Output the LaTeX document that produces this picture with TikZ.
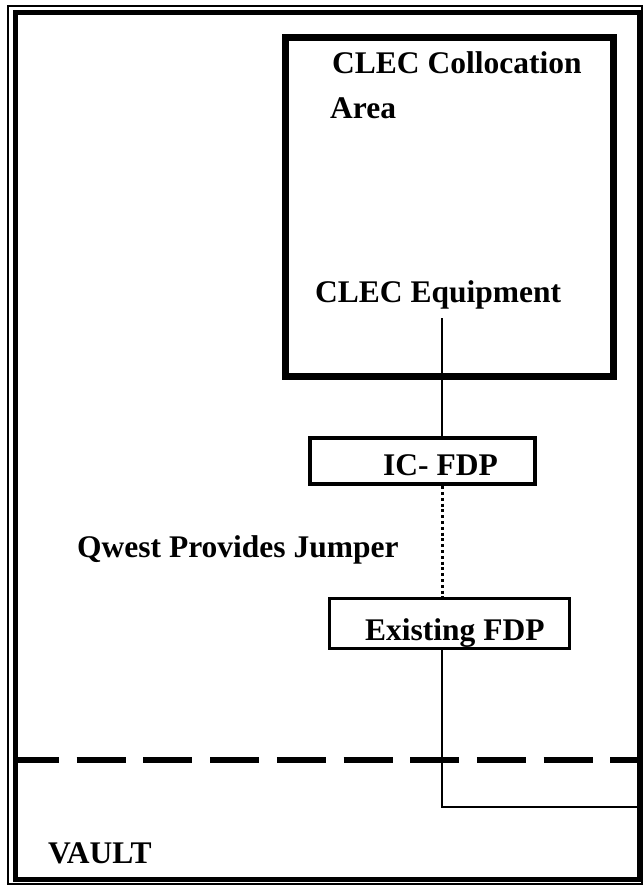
\documentclass[tikz,border=0pt]{standalone}
\usepackage{fontspec}
\setmainfont{Liberation Serif}
\usetikzlibrary{calc}
\tikzset{
    plan/.style={x=1pt,y=-1pt},
    lbl/.style={anchor=base west,inner sep=0pt,
        font=\fontsize{31.5}{38}\selectfont\bfseries},
    areabox/.style={draw,line width=7pt},
    fdpbox/.style={draw,rectangle,inner sep=0pt},
    wire/.style={line width=2.6pt},
    jumper/.style={line width=3pt,dash pattern=on 3pt off 2.8pt},
    vaultline/.style={line width=6pt,dash pattern=on 49pt off 17.7pt,dash phase=5pt}
}
\begin{document}
\begin{tikzpicture}[plan]
\useasboundingbox (0,0) rectangle (643,886);
% building outline, double line
\draw[line width=1.2pt] (8,6) rectangle (642,884);
\draw[line width=5pt] (15,12) rectangle (639,879);
% vault boundary
\draw[vaultline] (15,760) -- (639,760);
% collocation area
\draw[areabox] (285,37) rectangle (613,376);
\node[lbl] (colloc) at (332,73) {CLEC Collocation};
\node[lbl] (area) at (330,118) {Area};
\node[lbl] (equip) at (315,302) {CLEC Equipment};
% frames
\node[fdpbox,line width=4.5pt,minimum width=225pt,minimum height=46pt] (icfdp) at (422.5,461) {};
\node[lbl] (icfdplbl) at (383,475) {IC- FDP};
\node[fdpbox,line width=3pt,minimum width=240pt,minimum height=50pt] (exfdp) at (449,623) {};
\node[lbl] (exfdplbl) at (365,640) {Existing FDP};
\node[lbl] (qwest) at (77,557) {Qwest Provides Jumper};
\node[lbl] (vault) at (48,863) {VAULT};
% cabling
\coordinate (jx) at (442,0);
\coordinate (vaultexit) at (639,807);
\draw[wire] (jx |- 0,318) -- (jx |- icfdp.north);
\draw[jumper] (jx |- icfdp.south) -- (jx |- exfdp.north);
\draw[wire] (jx |- exfdp.south) |- (vaultexit);
\end{tikzpicture}
\end{document}
